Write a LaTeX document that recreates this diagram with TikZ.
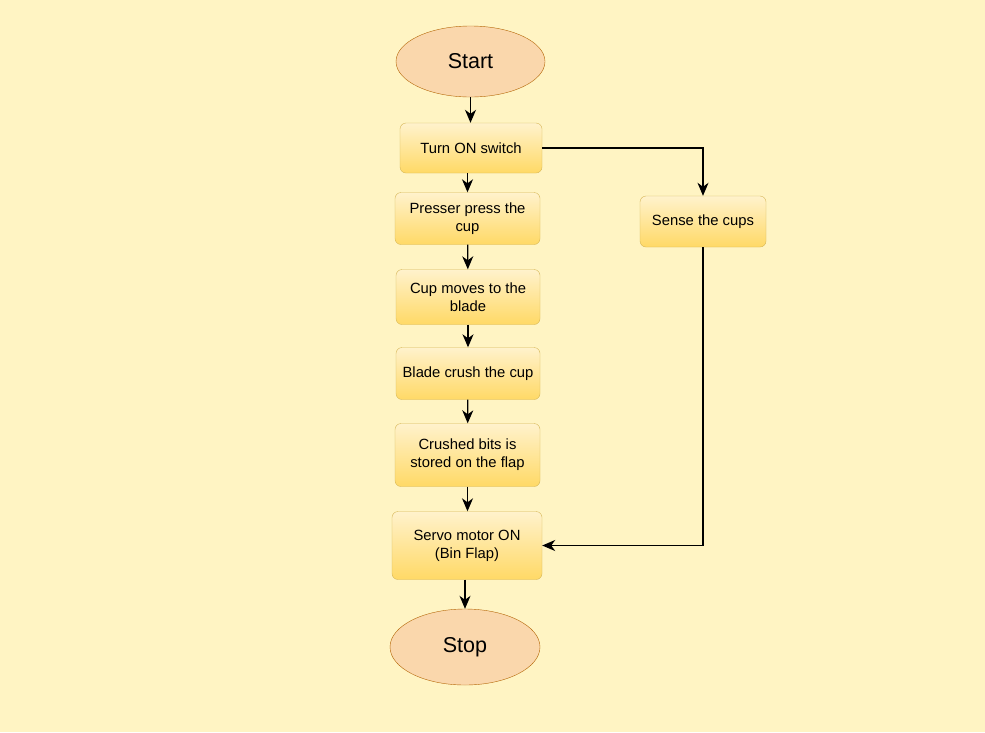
\documentclass[tikz,border=0pt]{standalone}
\usepackage{fontspec}
\setmainfont{Liberation Sans}
\usetikzlibrary{shapes.geometric,arrows.meta}
\definecolor{bgpaper}{HTML}{FFF4C3}
\definecolor{termfill}{HTML}{FAD7AC}
\definecolor{termline}{HTML}{B46504}
\definecolor{boxtop}{HTML}{FFF2CC}
\definecolor{boxbot}{HTML}{FFD966}
\definecolor{boxline}{HTML}{D6B656}

\begin{document}
\begin{tikzpicture}[x=1pt,y=-1pt,
  term/.style={ellipse,draw=termline,fill=termfill,inner sep=0pt,
    font=\fontsize{21.5}{24}\selectfont},
  stepbox/.style={rectangle,rounded corners=6pt,draw=boxline,top color=boxtop,
    bottom color=boxbot,inner sep=0pt,align=center,font=\fontsize{14.8}{18}\selectfont},
  flow/.style={-{Stealth[length=13pt,width=11pt,inset=4pt]},line width=1.2pt}]
  \fill[bgpaper] (0,0) rectangle (985,732);
  \node[term,minimum width=149pt,minimum height=71pt] (start) at (470.5,61.5) {Start};
  \node[stepbox,minimum width=142pt,minimum height=50pt] (switch) at (471,148) {Turn ON switch};
  \node[stepbox,minimum width=145pt,minimum height=52pt] (press) at (467.5,218.5) {Presser press the\\cup};
  \node[stepbox,minimum width=144pt,minimum height=55pt] (moves) at (468,297) {Cup moves to the\\blade};
  \node[stepbox,minimum width=144pt,minimum height=52pt] (crush) at (468,373.5) {Blade crush the cup};
  \node[stepbox,minimum width=145pt,minimum height=63pt] (stored) at (467.5,455) {Crushed bits is\\stored on the flap};
  \node[stepbox,minimum width=150pt,minimum height=68pt] (servo) at (467,545.5) {Servo motor ON\\(Bin Flap)};
  \node[term,minimum width=150pt,minimum height=76pt] (stop) at (465,647) {Stop};
  \node[stepbox,minimum width=126pt,minimum height=51pt] (sense) at (703,221.5) {Sense the cups};
  % main line
  \draw[flow] (start) -- (start.south|-switch.north);
  \draw[flow] (switch.south-|press.north) -- (press.north);
  \draw[flow] (press) -- (moves);
  \draw[flow] (moves) -- (crush);
  \draw[flow] (crush) -- (stored);
  \draw[flow] (stored) -- (stored.south|-servo.north);
  \draw[flow] (servo.south-|stop.north) -- (stop);
  % side branch
  \draw[flow] (switch.east) -| (sense.north);
  \draw[flow] (sense.south) |- (servo.east);
\end{tikzpicture}
\end{document}
